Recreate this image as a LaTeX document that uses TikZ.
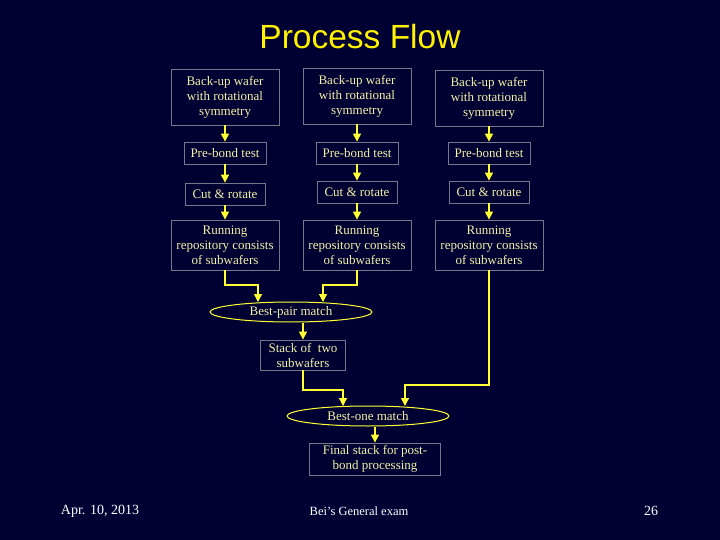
\documentclass[tikz,border=0pt]{standalone}
\usepackage{fontspec}
\setmainfont{Liberation Serif}
\newfontfamily\titlefont{Liberation Sans}
\usetikzlibrary{shapes.geometric,arrows.meta}
\definecolor{bg}{HTML}{000033}
\definecolor{txt}{HTML}{F2F2A8}
\definecolor{bd}{HTML}{77778A}
\definecolor{ar}{HTML}{FFFF33}
\tikzset{
 bx/.style={draw=bd,line width=0.8pt,text=txt,font=\fontsize{13}{15}\selectfont,align=center,inner sep=0pt},
 el/.style={ellipse,draw=ar,line width=1pt,text=txt,font=\fontsize{13}{15}\selectfont,inner sep=0pt,minimum width=162pt,minimum height=20pt},
 ar/.style={draw=ar,line width=1.2pt,-{Triangle[length=8pt,width=8pt]}},
 foot/.style={text=white,font=\fontsize{14}{16}\selectfont}
}
\begin{document}
\begin{tikzpicture}[x=1pt,y=-1pt]
\fill[bg] (0,0) rectangle (720,540);
\useasboundingbox (0,0) rectangle (720,540);
\node[text=yellow,font=\titlefont\fontsize{33.5}{38}\selectfont] (title) at (360,37) {Process Flow};
\foreach \c/\x/\ya/\yb in {a/225/97/194, b/357/96/192, c/489/98/192}{
 \node[bx,minimum width=108pt,minimum height=56pt] (\c1) at (\x,\ya) {Back-up wafer\\with rotational\\symmetry};
 \node[bx,minimum width=82pt,minimum height=22pt] (\c2) at (\x,153) {Pre-bond test};
 \node[bx,minimum width=80pt,minimum height=22pt] (\c3) at (\x,\yb) {Cut \& rotate};
 \node[bx,minimum width=108pt,minimum height=50pt] (\c4) at (\x,245) {Running\\repository consists\\of subwafers};
 \draw[ar] (\c1) -- (\c2);
 \draw[ar] (\c2) -- (\c3);
 \draw[ar] (\c3) -- (\c4);
}
\node[el] (bp) at (291,312) {Best-pair match};
\node[bx,minimum width=85pt,minimum height=30pt] (st) at (303,355) {Stack of\ \ two\\subwafers};
\node[el] (bo) at (368,416) {Best-one match};
\node[bx,minimum width=131pt,minimum height=32pt] (fi) at (375,459) {Final stack for post-\\bond processing};
\draw[ar] (a4.south) |- (258,285) -- (258,302);
\draw[ar] (b4.south) |- (323,285) -- (323,302);
\draw[ar] (bp.south -| st.north) -- (st.north);
\draw[ar] (st.south) |- (343,390) -- (343,406);
\draw[ar] (c4.south) |- (405,385) -- (405,406);
\draw[ar] (bo.south -| fi.north) -- (fi.north);
\node[foot] (f1) at (100,511) {Apr. 10, 2013};
\node[foot,font=\fontsize{12.5}{14}\selectfont] (f2) at (359,511) {Bei's General exam};
\node[foot] (f3) at (651,511) {26};
\end{tikzpicture}
\end{document}
